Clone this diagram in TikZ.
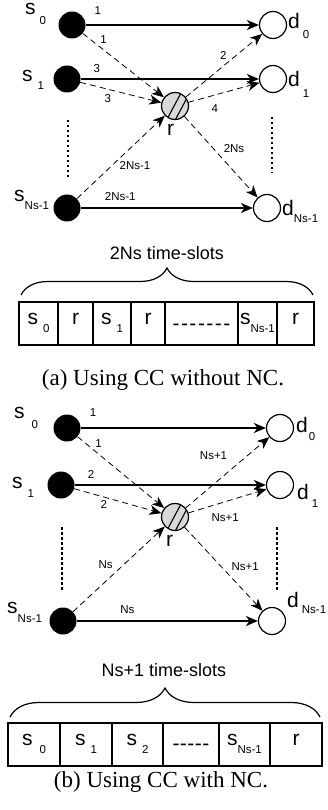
\documentclass[tikz,border=0pt]{standalone}
\usepackage{fontspec}
\setmainfont{Liberation Serif}
\setsansfont{Liberation Sans}
\usetikzlibrary{arrows.meta, positioning, decorations.pathreplacing}
\newcommand{\bigf}{\fontsize{21}{23}\selectfont}
\newcommand{\smallf}{\fontsize{11.5}{13}\selectfont}
\newcommand{\midf}{\fontsize{18}{20}\selectfont}
\newcommand{\capf}{\fontsize{23}{26}\selectfont}
% name with lowered index: \nm[gap]{letter}{drop}{index}
\newcommand{\nm}[4][0pt]{{\bigf #2}\hspace*{#1}\raisebox{-#3}{\smallf #4}}
\newcommand{\hy}[1]{-\kern#1}
\tikzset{
  src/.style   = {circle, fill=black, inner sep=0pt, minimum size=27pt},
  dst/.style   = {circle, draw, fill=white, line width=1.2pt, inner sep=0pt, minimum size=27pt},
  relay/.style = {circle, draw, fill=gray!30, line width=1.2pt, inner sep=0pt, minimum size=27pt,
                  path picture={
                    \draw[line width=1.1pt] ([shift={(-10,17)}]path picture bounding box.center) -- ++(16,-30);
                    \draw[line width=1.1pt] ([shift={(-3,20)}]path picture bounding box.center) -- ++(16,-30);}},
  link/.style  = {-{Stealth[length=12pt, width=10pt, inset=3.5pt]}, line width=1.3pt},
  dlink/.style = {-{Stealth[length=12pt, width=10pt, inset=3.5pt]}, line width=0.8pt, dash pattern=on 6pt off 4pt},
  lbl/.style   = {font=\sffamily\smallf, inner sep=1pt},
  tag/.style   = {font=\sffamily, anchor=base west, inner sep=0pt},
  slot/.style  = {draw, line width=1.2pt, minimum height=43pt, inner sep=0pt, outer sep=0pt,
                  text height=10pt, text depth=8pt, font=\sffamily, anchor=west},
  dots/.style  = {line width=1.6pt, dash pattern=on 2.5pt off 2.5pt},
  brc/.style   = {decorate, decoration={brace, amplitude=27pt}, line width=1.2pt},
  ttl/.style   = {font=\sffamily\midf, inner sep=0pt},
  capt/.style  = {font=\capf, inner sep=0pt}
}
\begin{document}
\begin{tikzpicture}[x=1pt, y=-1pt]
  \useasboundingbox (0,0) rectangle (328,810);

  % (a) without network coding
  \node[src] (s0a) at (72,25) {};
  \node[src] (s1a) at (67,79) {};
  \node[src] (sNa) at (67,208) {};
  \node[dst] (d0a) at (273,25) {};
  \node[dst] (d1a) at (273,79) {};
  \node[dst] (dNa) at (267,208) {};
  \node[relay] (ra) at (175,106) {};

  \node[tag] (ts0a) at (25,15) {\nm[4pt]{s}{10pt}{0}};
  \node[tag] (ts1a) at (22,82) {\nm[5pt]{s}{8pt}{1}};
  \node[tag] (tsNa) at (14,202) {\nm{s}{8pt}{Ns-1}};
  \node[tag] (td0a) at (288,29) {\nm[3pt]{d}{10pt}{0}};
  \node[tag] (td1a) at (288,87) {\nm[3pt]{d}{11pt}{1}};
  \node[tag] (tdNa) at (282,215) {\nm{d}{7pt}{Ns-1}};
  \node[tag] (tra) at (167,136) {\bigf r};

  \draw[link] (s0a) -- node[lbl, pos=0.07, above=9pt] (w1a) {1} (d0a);
  \draw[link] (s1a) -- node[lbl, pos=0.09, above=5pt] (w2a) {3} (d1a);
  \draw[link] (sNa) -- node[lbl, pos=0.23, above=6pt] (w3a) {2Ns-1} (dNa);
  \draw[dlink] (s0a) -- node[lbl, pos=0.19, above right=1pt] (w4a) {1} (ra);
  \draw[dlink] (s1a) -- node[lbl, pos=0.34, below=4pt] (w5a) {3} (ra);
  \draw[dlink] (sNa) -- node[lbl, pos=0.47, below right=0pt] (w6a) {2Ns-1} (ra);
  \draw[dlink] (ra) -- node[lbl, pos=0.56, above left=1pt] (w7a) {2} (d0a);
  \draw[dlink] (ra) -- node[lbl, pos=0.37, below=8pt] (w8a) {4} (d1a);
  \draw[dlink] (ra) -- node[lbl, pos=0.49, above right=3pt] (w9a) {2Ns} (dNa);

  \draw[dots] (68,120) -- (68,177);
  \draw[dots] (272,117) -- (272,173);

  \draw[brc] (21,295) -- (313,295);
  \node[ttl] (tsa) at (167,253) {2Ns time-slots};

  \node[slot, minimum width=39pt] (c1a) at (19,323.5) {\nm[5pt]{s}{8pt}{0}};
  \node[slot, minimum width=35pt, right=0pt of c1a] (c2a) {\bigf r};
  \node[slot, minimum width=38pt, right=0pt of c2a] (c3a) {\nm[5pt]{s}{8pt}{1}};
  \node[slot, minimum width=34pt, right=0pt of c3a] (c4a) {\bigf r};
  \node[slot, minimum width=73pt, right=0pt of c4a] (c5a)
       {\raisebox{-5.5pt}{\bigf\hy{1.5pt}\hy{1.5pt}\hy{1.5pt}\hy{1.5pt}\hy{1.5pt}\hy{1.5pt}-}};
  \node[slot, minimum width=39pt, right=0pt of c5a] (c6a) {\nm{s}{8pt}{Ns-1}};
  \node[slot, minimum width=37pt, right=0pt of c6a] (c7a) {\bigf r};

  \node[capt] (capa) at (163,380) {(a) Using CC without NC.};

  % (b) with network coding
  \node[src] (s0b) at (67,428) {};
  \node[src] (s1b) at (61,485) {};
  \node[src] (sNb) at (63,621) {};
  \node[dst] (d0b) at (280,428) {};
  \node[dst] (d1b) at (280,485) {};
  \node[dst] (dNb) at (272,621) {};
  \node[relay] (rb) at (175,517) {};

  \node[tag] (ts0b) at (14,418) {\nm[7pt]{s}{10pt}{0}};
  \node[tag] (ts1b) at (12,488) {\nm[5pt]{s}{9pt}{1}};
  \node[tag] (tsNb) at (7,613) {\nm{s}{9pt}{Ns-1}};
  \node[tag] (td0b) at (296,432) {\nm[1pt]{d}{8pt}{0}};
  \node[tag] (td1b) at (297,499) {\nm[3pt]{d}{8pt}{1}};
  \node[tag] (tdNb) at (287,607) {\nm[3pt]{d}{6pt}{Ns-1}};
  \node[tag] (trb) at (166,546) {\bigf r};

  \draw[link] (s0b) -- node[lbl, pos=0.067, above=10pt] (w1b) {1} (d0b);
  \draw[link] (s1b) -- node[lbl, pos=0.086, above=5pt] (w2b) {2} (d1b);
  \draw[link] (sNb) -- node[lbl, pos=0.28, above=6pt] (w3b) {Ns} (dNb);
  \draw[dlink] (s0b) -- node[lbl, pos=0.18, above right=1pt] (w4b) {1} (rb);
  \draw[dlink] (s1b) -- node[lbl, pos=0.34, below=2pt] (w5b) {2} (rb);
  \draw[dlink] (sNb) -- node[lbl, pos=0.47, above left=3pt] (w6b) {Ns} (rb);
  \draw[dlink] (rb) -- node[lbl, pos=0.58, above left=8pt] (w7b) {Ns+1} (d0b);
  \draw[dlink] (rb) -- node[lbl, pos=0.47, below=10pt] (w8b) {Ns+1} (d1b);
  \draw[dlink] (rb) -- node[lbl, pos=0.56, above right=3pt] (w9b) {Ns+1} (dNb);

  \draw[dots] (62,527) -- (62,590);
  \draw[dots] (277,527) -- (277,590);

  \draw[brc, decoration={amplitude=29pt}] (10,717) -- (320,717);
  \node[ttl] (tsb) at (164,670) {Ns+1 time-slots};

  \node[slot, minimum width=52pt] (c1b) at (8,744.5) {\nm[7pt]{s}{8pt}{0}};
  \node[slot, minimum width=52pt, right=0pt of c1b] (c2b) {\nm[5pt]{s}{8pt}{1}};
  \node[slot, minimum width=51pt, right=0pt of c2b] (c3b) {\nm[5pt]{s}{8pt}{2}};
  \node[slot, minimum width=56pt, right=0pt of c3b] (c4b)
       {\raisebox{-4.5pt}{\bigf\hy{0.5pt}\hy{0.5pt}\hy{0.5pt}\hy{0.5pt}-}};
  \node[slot, minimum width=51pt, right=0pt of c4b] (c5b) {\nm{s}{8pt}{Ns-1}};
  \node[slot, minimum width=52pt, right=0pt of c5b] (c6b) {\bigf r};

  \node[capt] (capb) at (161,782) {(b) Using CC with NC.};
\end{tikzpicture}
\end{document}
